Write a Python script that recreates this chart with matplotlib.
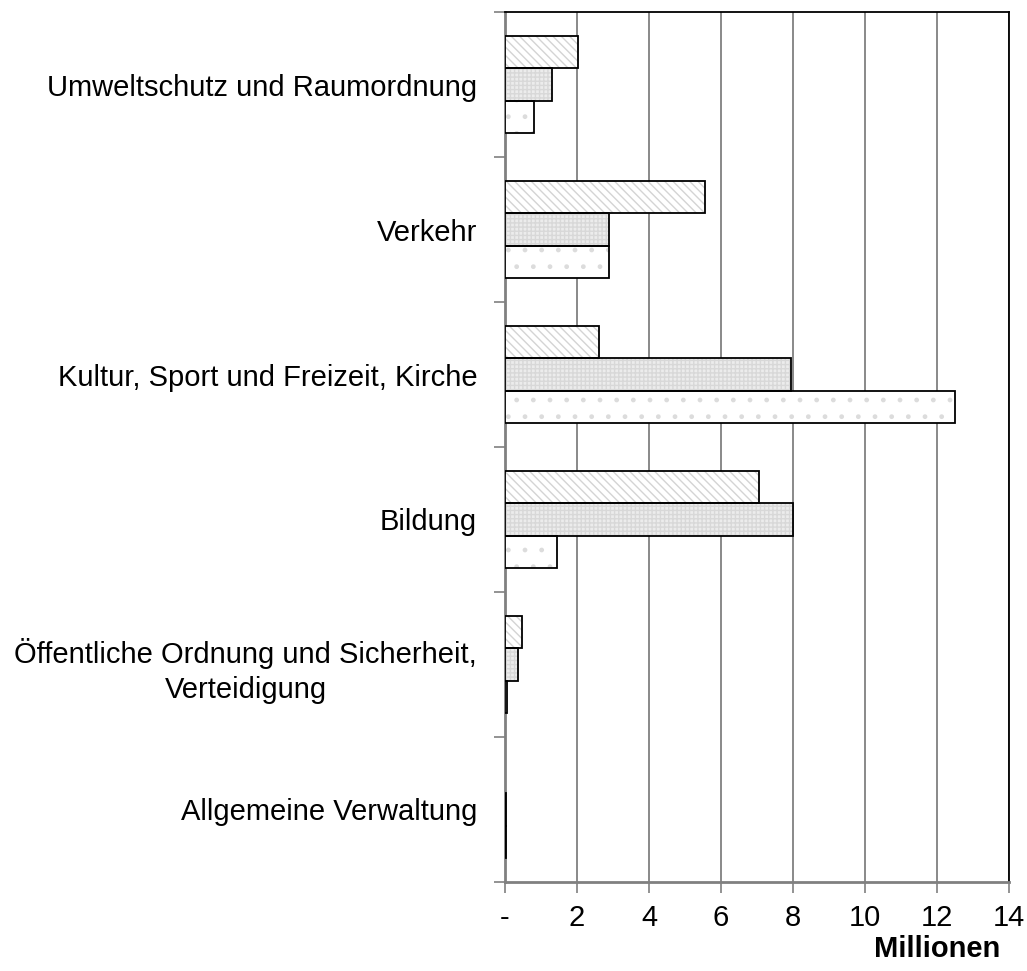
import numpy as np
import matplotlib
matplotlib.use("Agg")
import matplotlib.pyplot as plt

plt.rcParams['font.family'] = ['Liberation Sans', 'DejaVu Sans']

# categories from bottom to top
categories = ["Allgemeine Verwaltung",
              "Öffentliche Ordnung und Sicherheit,\nVerteidigung",
              "Bildung",
              "Kultur, Sport und Freizeit, Kirche",
              "Verkehr",
              "Umweltschutz und Raumordnung"]

# three series (values in Millionen), same order as categories
series_a = [0.0, 0.47, 7.05, 2.6, 5.55, 2.03]   # diagonal hatch, top bar
series_b = [0.02, 0.37, 8.0, 7.95, 2.9, 1.3]    # grey fine pattern, middle bar
series_c = [0.03, 0.05, 1.45, 12.5, 2.9, 0.8]   # dotted, bottom bar

xticks = [0, 2, 4, 6, 8, 10, 12, 14]
xticklabels = ["-", "2", "4", "6", "8", "10", "12", "14"]

styles = [
    dict(face="white", hatch="\\\\\\\\", hcolor="#d4d4d4"),
    dict(face="#ececec", hatch="++++", hcolor="#d8d8d8"),
    dict(face="white", hatch=".", hcolor="#dcdcdc"),
]

fs = 21

fig = plt.figure(figsize=(10.27, 9.71), dpi=100)
ax = fig.add_axes([0.4917, 0.0917, 0.4908, 0.8959])

y = np.arange(len(categories))
h = 0.224
offsets = [h, 0.0, -h]

for vals, off, st in zip([series_a, series_b, series_c], offsets, styles):
    ax.barh(y + off, vals, height=h, color=st["face"], edgecolor=st["hcolor"],
            hatch=st["hatch"], linewidth=0, zorder=3)
    lws = [1.3 if v > 0 else 0 for v in vals]
    ax.barh(y + off, vals, height=h, fill=False, edgecolor="black",
            linewidth=lws, zorder=4)

ax.set_xlim(0, 14)
ax.set_ylim(-0.5, len(categories) - 0.5)

ax.set_xticks(xticks)
ax.set_xticklabels(xticklabels, fontsize=fs)
ax.set_yticks(y)
ax.set_yticklabels(categories, fontsize=fs, ha="right", multialignment="center",
                   linespacing=1.3)
ax.set_yticks(np.arange(-0.5, len(categories), 1.0), minor=True)

ax.tick_params(axis="y", which="major", length=0, pad=20)
ax.tick_params(axis="y", which="minor", length=8, color="#808080", width=1.2)
ax.tick_params(axis="x", which="major", length=8, color="#808080", width=1.2, pad=8)

ax.xaxis.grid(True, color="#808080", linewidth=1.3, zorder=0)
ax.set_axisbelow(True)

for side in ["left", "bottom"]:
    ax.spines[side].set_color("#808080")
    ax.spines[side].set_linewidth(2)
for side in ["top", "right"]:
    ax.spines[side].set_color("black")
    ax.spines[side].set_linewidth(1.3)

fig.text(0.9735, 0.0227, "Millionen", fontsize=fs, fontweight="bold", ha="right", va="center")

fig.savefig("out.png", dpi=100)
